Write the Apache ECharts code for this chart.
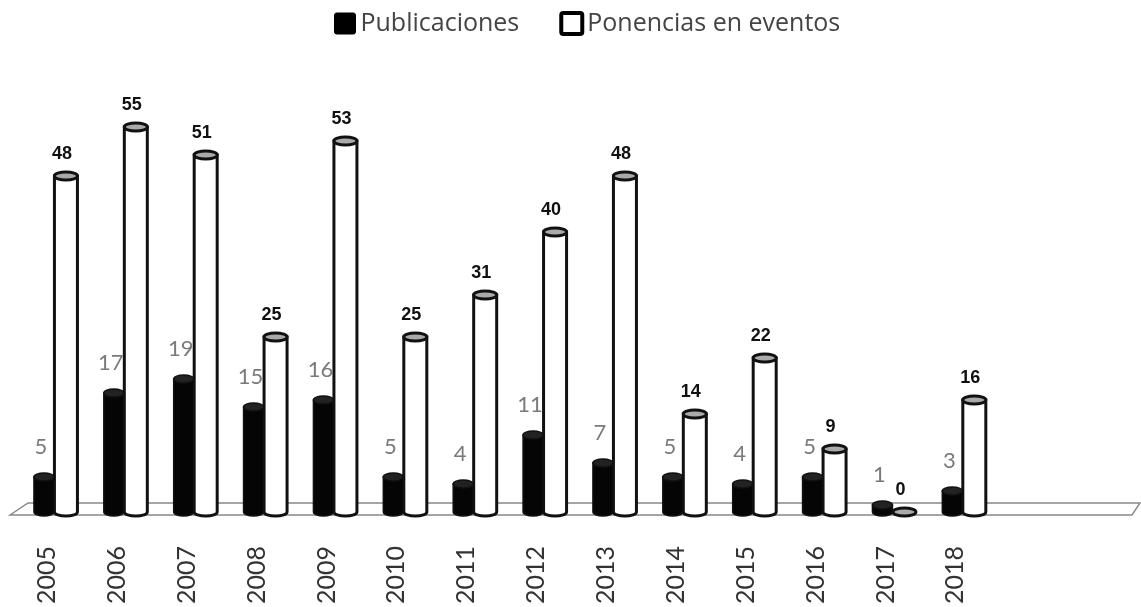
<!DOCTYPE html>
<html lang="es">
<head>
    <meta charset="UTF-8">
    <title>Publicaciones y ponencias</title>
    <script src="https://cdn.jsdelivr.net/npm/echarts@6/dist/echarts.min.js"></script>
    <style>
        body { margin: 0; padding: 0; background: #fff; }
        #chart { width: 1141px; height: 607px; }
    </style>
</head>
<body>
    <div id="chart"></div>
    <script>
        // datos
        const years = ['2005', '2006', '2007', '2008', '2009', '2010', '2011', '2012', '2013', '2014', '2015', '2016', '2017', '2018'];
        const publicaciones = [5, 17, 19, 15, 16, 5, 4, 11, 7, 5, 4, 5, 1, 3];
        const ponencias = [48, 55, 51, 25, 53, 25, 31, 40, 48, 14, 22, 9, 0, 16];
        // the floor runs two empty slots past 2018
        const categories = years.concat(['', '']);

        const gridLeft = 12, gridRight = 11, gridTop = 92, gridBottom = 95;
        const W = 1141, H = 607;
        const baseY = H - gridBottom;

        // square legend icon with small rounded corners
        const squareIcon = 'path://M2,0 H18 Q20,0 20,2 V18 Q20,20 18,20 H2 Q0,20 0,18 V2 Q0,0 2,0 Z';

        // draws one cylinder per value
        function cylinder(opts) {
            return function (params, api) {
                const v = api.value(1);
                if (v == null || isNaN(v)) return;
                const base = api.coord([api.value(0), 0]);
                const top = api.coord([api.value(0), v]);
                const cx = base[0] + opts.dx;
                const w = opts.width, rx = w / 2, ry = 4;
                const xl = cx - rx, xr = cx + rx;
                const by = base[1], ty = top[1];
                const children = [];
                if (v > 0) {
                    children.push({
                        type: 'path',
                        shape: {
                            pathData: 'M' + xl + ' ' + ty + ' L' + xl + ' ' + by +
                                ' A' + rx + ' ' + ry + ' 0 0 0 ' + xr + ' ' + by +
                                ' L' + xr + ' ' + ty + ' Z'
                        },
                        style: { fill: opts.fill, stroke: '#111', lineWidth: opts.lw }
                    });
                }
                children.push({
                    type: 'ellipse',
                    shape: { cx: cx, cy: ty, rx: rx, ry: ry },
                    style: { fill: opts.cap, stroke: '#111', lineWidth: opts.lw }
                });
                children.push({
                    type: 'text',
                    style: {
                        text: String(v),
                        x: cx + opts.lx,
                        y: ty + opts.ly,
                        align: 'center',
                        verticalAlign: 'middle',
                        font: opts.font,
                        fill: opts.labelColor
                    }
                });
                return { type: 'group', children: children };
            };
        }

        const chart = echarts.init(document.getElementById('chart'));
        chart.setOption({
            animation: false,
            backgroundColor: '#fff',
            legend: {
                top: 6,
                left: 329,
                itemWidth: 21,
                itemHeight: 21,
                itemGap: 40,
                textStyle: { fontFamily: 'Open Sans', fontSize: 25, color: '#444' },
                data: [
                    { name: 'Publicaciones', icon: squareIcon, itemStyle: { color: '#000', borderColor: '#000', borderWidth: 1 } },
                    { name: 'Ponencias en eventos', icon: squareIcon, itemStyle: { color: '#fff', borderColor: '#000', borderWidth: 4 } }
                ]
            },
            grid: { left: gridLeft, right: gridRight, top: gridTop, bottom: gridBottom },
            xAxis: {
                type: 'category',
                data: categories,
                axisLine: { show: false },
                axisTick: { show: false },
                axisLabel: {
                    rotate: 90,
                    margin: 34,
                    interval: 0,
                    fontFamily: 'Lato',
                    fontSize: 25,
                    color: '#333'
                }
            },
            yAxis: {
                type: 'value',
                min: 0,
                max: 60,
                show: false
            },
            graphic: [{
                type: 'polygon',
                z: 0,
                shape: {
                    points: [
                        [gridLeft - 2, baseY + 3],
                        [gridLeft + 16, baseY - 9],
                        [W - 1, baseY - 9],
                        [W - gridRight + 2, baseY + 3]
                    ]
                },
                style: { fill: '#fff', stroke: '#888', lineWidth: 1.5 }
            }],
            series: [
                {
                    name: 'Publicaciones',
                    type: 'custom',
                    z: 5,
                    itemStyle: { color: '#000' },
                    encode: { x: 0, y: 1 },
                    renderItem: cylinder({
                        dx: -3, width: 20, fill: '#050505', cap: '#222', lw: 1.5,
                        lx: -3, ly: -30, font: '22px Lato', labelColor: '#7a7a7a'
                    }),
                    data: publicaciones.map(function (v, i) { return [i, v]; })
                },
                {
                    name: 'Ponencias en eventos',
                    type: 'custom',
                    z: 4,
                    itemStyle: { color: '#fff', borderColor: '#000' },
                    encode: { x: 0, y: 1 },
                    renderItem: cylinder({
                        dx: 19, width: 23, fill: '#fff', cap: '#aaa', lw: 3,
                        lx: -4, ly: -22, font: 'bold 18px "Liberation Sans", Arial', labelColor: '#111'
                    }),
                    data: ponencias.map(function (v, i) { return [i, v]; })
                }
            ]
        });
    </script>
</body>
</html>
